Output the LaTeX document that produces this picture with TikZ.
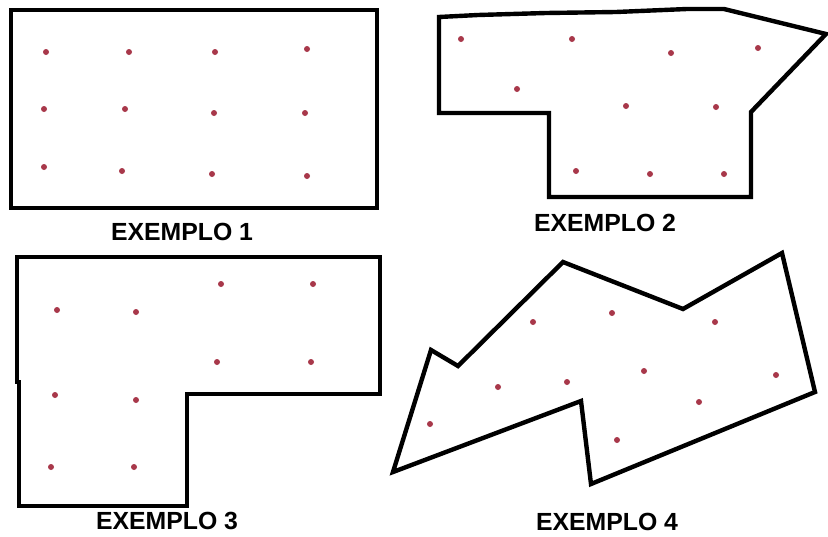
\documentclass[tikz,border=0pt]{standalone}
\usepackage{fontspec}
\setmainfont{Liberation Sans}
\definecolor{dotred}{HTML}{A8384A}
\tikzset{
  outline/.style={line width=4.4pt, line join=miter, black},
  dotpt/.style={fill=dotred},
  caption/.style={font=\fontsize{24.8pt}{28pt}\selectfont\bfseries, inner sep=0pt, anchor=center}
}
\begin{document}
\begin{tikzpicture}[x=1pt,y=-1pt]
\useasboundingbox[fill=white] (0,0) rectangle (828,536);
% Example 1
\draw[outline] (11,10) rectangle (377,208);
\foreach \p in {(46,52),(129,52),(215,52),(307,49),(44,109),(125,109),(214,113),(305,113),(44,167),(122,171),(212,174),(307,176)}
  \fill[dotpt] \p circle (3);
\node[caption] (l1) at (182,232) {EXEMPLO 1};
% Example 2
\draw[outline] (439,17) -- (478,15) -- (546,13) -- (616,12) -- (687,9) -- (724,9) -- (826,34) -- (751,112) -- (751,197) -- (549,197) -- (549,113) -- (439,113) -- cycle;
\foreach \p in {(461,39),(572,39),(671,53),(758,48),(517,89),(626,106),(716,107),(576,171),(650,174),(724,174)}
  \fill[dotpt] \p circle (3);
\node[caption] (l2) at (605,223) {EXEMPLO 2};
% Example 3
\draw[outline] (17,257) -- (380,257) -- (380,394) -- (187,394) -- (187,506) -- (19,506) -- (19,382) -- (17,382) -- cycle;
\foreach \p in {(57,310),(136,312),(221,284),(313,284),(217,362),(311,362),(55,395),(136,400),(51,467),(134,467)}
  \fill[dotpt] \p circle (3);
\node[caption] (l3) at (167,521) {EXEMPLO 3};
% Example 4
\draw[outline] (393,472) -- (431,350) -- (458,366) -- (563,262) -- (683,309) -- (782,253) -- (815,392) -- (591,484) -- (581,401) -- cycle;
\foreach \p in {(533,322),(612,313),(715,322),(498,387),(567,382),(644,371),(776,375),(699,402),(430,424),(617,440)}
  \fill[dotpt] \p circle (3);
\node[caption] (l4) at (607,522) {EXEMPLO 4};
\end{tikzpicture}
\end{document}
